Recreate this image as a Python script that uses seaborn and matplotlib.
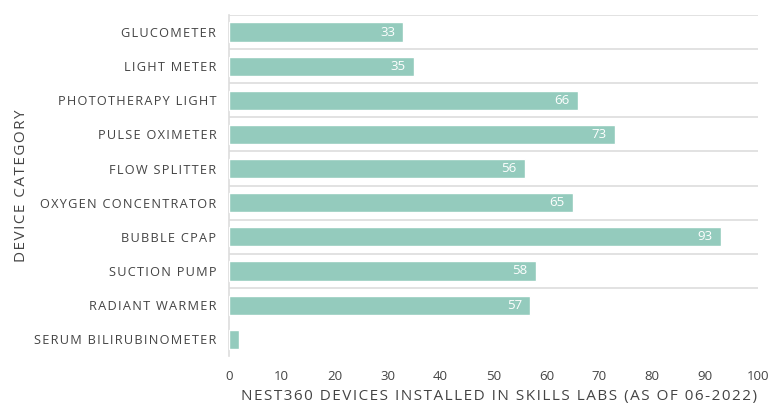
import numpy as np
import pandas as pd
import seaborn as sns
import matplotlib.pyplot as plt

categories = [
    "GLUCOMETER", "LIGHT METER", "PHOTOTHERAPY LIGHT", "PULSE OXIMETER",
    "FLOW SPLITTER", "OXYGEN CONCENTRATOR", "BUBBLE CPAP", "SUCTION PUMP",
    "RADIANT WARMER", "SERUM BILIRUBINOMETER",
]
devices = [33, 35, 66, 73, 56, 65, 93, 58, 57, 2]
x_ticks = [0, 10, 20, 30, 40, 50, 60, 70, 80, 90, 100]


def spaced(s, sep="\u200a"):
    # fake letter spacing with hair spaces
    return sep.join(s)


df = pd.DataFrame({"category": categories, "devices": devices})

sns.set_theme(style="white")
plt.rcParams['font.family'] = ['Open Sans', 'DejaVu Sans']

bar_color = "#94cbbd"
text_color = "#444444"
grid_color = "#dddddd"

fig, ax = plt.subplots(figsize=(7.68, 4.04), dpi=100)
fig.subplots_adjust(left=0.298, right=0.987, top=0.963, bottom=0.118)

sns.barplot(data=df, x="devices", y="category", color=bar_color,
            saturation=1, width=0.56, ax=ax, zorder=3)

# light separators between categories
for i in range(len(categories) - 1):
    ax.axhline(i - 0.5, color=grid_color, lw=1.2, zorder=1)

# value labels inside the bars
for i, v in enumerate(devices):
    if v >= 10:
        ax.text(v - 1.6, i, str(v), color="white", ha="right", va="center",
                fontsize=9.5, zorder=4)

ax.set_xlim(0, 100)
ax.set_ylim(len(categories) - 0.5, -0.5)
ax.set_xticks(x_ticks)
ax.set_yticks(range(len(categories)))
ax.set_yticklabels([spaced(c) for c in categories])
ax.tick_params(axis="x", colors=grid_color, length=4, width=1, labelsize=9.5,
               labelcolor=text_color, pad=6)
ax.tick_params(axis="y", length=0, labelsize=9.2, labelcolor=text_color, pad=9)

for s in ["top", "right", "bottom"]:
    ax.spines[s].set_visible(False)
ax.spines["left"].set_color(grid_color)
ax.spines["left"].set_linewidth(1.2)

ax.set_xlabel(spaced("NEST360 DEVICES INSTALLED IN SKILLS LABS (AS OF 06-2022)"),
              fontsize=11, color=text_color)
ax.set_ylabel(spaced("DEVICE CATEGORY"), fontsize=11, color=text_color)
ax.xaxis.set_label_coords(0.51, -0.096)
ax.yaxis.set_label_coords(-0.378, 0.5)

plt.savefig("out.png", dpi=100)
